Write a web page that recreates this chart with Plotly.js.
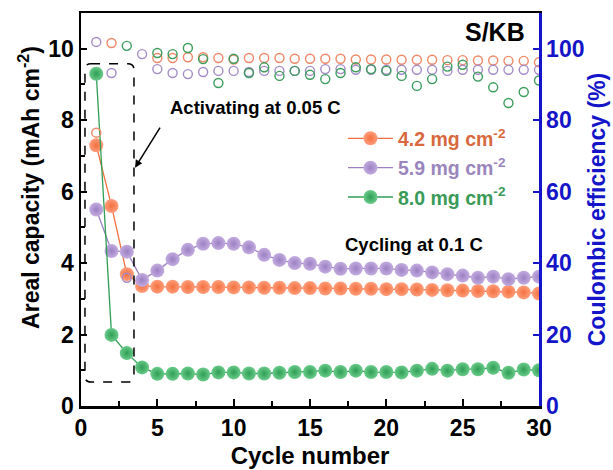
<!DOCTYPE html>
<html>
<head>
<meta charset="utf-8">
<script src="https://cdn.plot.ly/plotly-3.0.1.min.js"></script>
<style>html,body{margin:0;padding:0;background:#fff;}#chart{width:613px;height:470px;}</style>
</head>
<body>
<div id="chart"></div>
<script>
const cycles = [1,2,3,4,5,6,7,8,9,10,11,12,13,14,15,16,17,18,19,20,21,22,23,24,25,26,27,28,29,30];

const capacity42 = [7.3,5.6,3.69,3.36,3.34,3.34,3.33,3.33,3.33,3.32,3.32,3.31,3.31,3.30,3.30,3.29,3.29,3.28,3.28,3.27,3.27,3.26,3.25,3.24,3.23,3.22,3.21,3.20,3.18,3.15];
const capacity59 = [5.5,4.34,4.32,3.53,3.79,4.11,4.37,4.54,4.56,4.54,4.44,4.23,4.09,4.00,3.98,3.90,3.84,3.85,3.85,3.85,3.81,3.79,3.74,3.69,3.65,3.59,3.62,3.55,3.59,3.62];
const capacity80 = [9.3,1.99,1.48,1.08,0.90,0.90,0.91,0.88,0.94,0.94,0.91,0.91,0.93,0.95,0.95,0.99,0.95,0.99,0.95,0.95,0.94,0.99,1.04,0.99,1.03,1.03,1.07,0.93,1.02,1.00];

const ce42 = [76.5,101.6,111.5,null,97.4,97.4,97.6,97.6,97.4,97.0,97.4,97.4,97.4,97.2,97.2,97.2,97.2,97.0,97.0,97.0,96.9,96.9,96.9,96.8,96.8,96.7,96.7,96.6,96.6,96.2];
const ce59 = [101.9,93.2,35.9,98.5,94.3,93.2,92.9,93.5,93.8,93.8,93.5,93.8,93.8,93.8,93.8,94.3,94.3,94.1,94.1,94.1,94.1,94.1,94.1,93.8,94.1,94.1,94.1,94.1,94.1,94.1];
const ce80 = [null,null,100.8,null,98.8,98.5,100.2,97.1,90.4,97.2,93.2,94.8,92.4,93.8,92.7,91.5,93.2,94.8,94.3,93.8,92.4,89.6,91.5,95.0,95.5,92.2,89.2,84.8,87.9,91.1];

const seriesNames = ['4.2 mg cm<sup>-2</sup>','5.9 mg cm<sup>-2</sup>','8.0 mg cm<sup>-2</sup>'];
const xTickVals = [0,5,10,15,20,25,30];
const yTickVals = [0,2,4,6,8,10];
const y2TickVals = [0,20,40,60,80,100];

const FONT = 'Liberation Sans, Arial, sans-serif';
const BLUE = '#1414C8';
const styles = [
  {main:'#F2703F', light:'#FF9E7C', text:'#D8683E', ce:'#EE8866'},
  {main:'#9C80C2', light:'#C3ACE0', text:'#9A86BD', ce:'#A48CC8'},
  {main:'#2F9E55', light:'#6ACB8A', text:'#3A9A58', ce:'#3C9C5C'}
];
const caps = [capacity42, capacity59, capacity80];
const ces = [ce42, ce59, ce80];

const traces = [];
caps.forEach((c,i)=>{
  traces.push({
    x: cycles, y: ces[i], yaxis:'y2', mode:'markers', type:'scatter', showlegend:false,
    marker:{symbol:'circle-open', size:9, color:styles[i].ce, line:{width:1.4, color:styles[i].ce}},
    cliponaxis:true, hoverinfo:'skip'
  });
});
caps.forEach((c,i)=>{
  traces.push({
    x: cycles, y: c, mode:'lines+markers', type:'scatter', legendgroup:'g'+i,
    name: '<span style="color:'+styles[i].text+'">'+seriesNames[i]+'</span>',
    line:{color:styles[i].main, width:1.3},
    marker:{size:14, color:styles[i].light, gradient:{type:'radial', color:styles[i].main}, line:{width:0}},
    cliponaxis:true
  });
});

// rounded dashed box around activation cycles (data coordinates)
const bx0=0.26, bx1=3.47, by0=0.67, by1=9.58, rx=0.4, ry=0.17;
const boxPath = `M ${bx0+rx},${by1} L ${bx1-rx},${by1} Q ${bx1},${by1} ${bx1},${by1-ry} L ${bx1},${by0+ry} Q ${bx1},${by0} ${bx1-rx},${by0} L ${bx0+rx},${by0} Q ${bx0},${by0} ${bx0},${by0+ry} L ${bx0},${by1-ry} Q ${bx0},${by1} ${bx0+rx},${by1} Z`;

const layout = {
  width:613, height:470,
  margin:{l:81, r:74, t:13, b:64},
  paper_bgcolor:'#fff', plot_bgcolor:'#fff',
  font:{family:FONT, color:'#000', weight:'bold'},
  showlegend:true,
  legend:{x:0.572, y:0.73, xanchor:'left', yanchor:'top', bgcolor:'rgba(0,0,0,0)',
          font:{family:FONT, size:19.5, weight:'bold'}, tracegroupgap:1, traceorder:'grouped', itemwidth:45},
  xaxis:{range:[0,30], tickvals:xTickVals, ticks:'inside', ticklen:7, tickwidth:2, tickcolor:'#000',
         minor:{dtick:2.5, ticks:'inside', ticklen:5, tickwidth:2, tickcolor:'#000'},
         showline:true, linewidth:2.5, linecolor:'#000', mirror:true, showgrid:false, zeroline:false,
         tickfont:{family:FONT, size:23, weight:'bold'},
         title:{text:'Cycle number', font:{family:FONT, size:24, weight:'bold'}, standoff:7}},
  yaxis:{range:[0,11], tickvals:yTickVals, ticks:'inside', ticklen:6, tickwidth:2, tickcolor:'#000',
         minor:{dtick:1, ticks:'inside', ticklen:4, tickwidth:2, tickcolor:'#000'},
         showline:true, linewidth:2.5, linecolor:'#000', showgrid:false, zeroline:false,
         tickfont:{family:FONT, size:23, weight:'bold'}},
  yaxis2:{range:[0,110], tickvals:y2TickVals, overlaying:'y', side:'right', ticks:'inside', ticklen:6, tickwidth:2,
          tickcolor:BLUE, showline:true, linewidth:2.5, linecolor:BLUE, showgrid:false, zeroline:false,
          tickfont:{family:FONT, size:23, weight:'bold', color:BLUE},
          title:{text:'Coulombic efficiency (%)', font:{family:FONT, size:23, weight:'bold', color:BLUE}, standoff:6}},
  shapes:[{type:'path', xref:'x', yref:'y', path:boxPath, line:{color:'#000', width:1.5, dash:'dash'}}],
  annotations:[
    {xref:'paper', yref:'paper', x:-0.1135, y:0.555, xanchor:'center', yanchor:'middle', textangle:-90,
     text:'Areal capacity (mAh cm<sup>-2</sup>)', showarrow:false, font:{family:FONT, size:23, weight:'bold', color:'#000'}},
    {xref:'x', yref:'y', x:5.7, y:8.35, xanchor:'left', yanchor:'middle', text:'Activating at 0.05 C', showarrow:false,
     font:{family:FONT, size:18.5, weight:'bold', color:'#000'}},
    {xref:'x', yref:'y', x:3.54, y:6.67, text:' ', showarrow:true, arrowhead:2, arrowsize:1, arrowwidth:1.5, arrowcolor:'#000', ax:28, ay:-45},
    {xref:'x', yref:'y', x:17.16, y:4.51, xanchor:'left', yanchor:'middle', text:'Cycling at 0.1 C', showarrow:false,
     font:{family:FONT, size:18.5, weight:'bold', color:'#000'}},
    {xref:'x', yref:'y', x:29.2, y:10.48, xanchor:'right', yanchor:'middle', text:'S/KB', showarrow:false,
     font:{family:FONT, size:25, weight:'bold', color:'#000'}}
  ]
};

Plotly.newPlot('chart', traces, layout, {displayModeBar:false, staticPlot:true});
</script>
</body>
</html>
